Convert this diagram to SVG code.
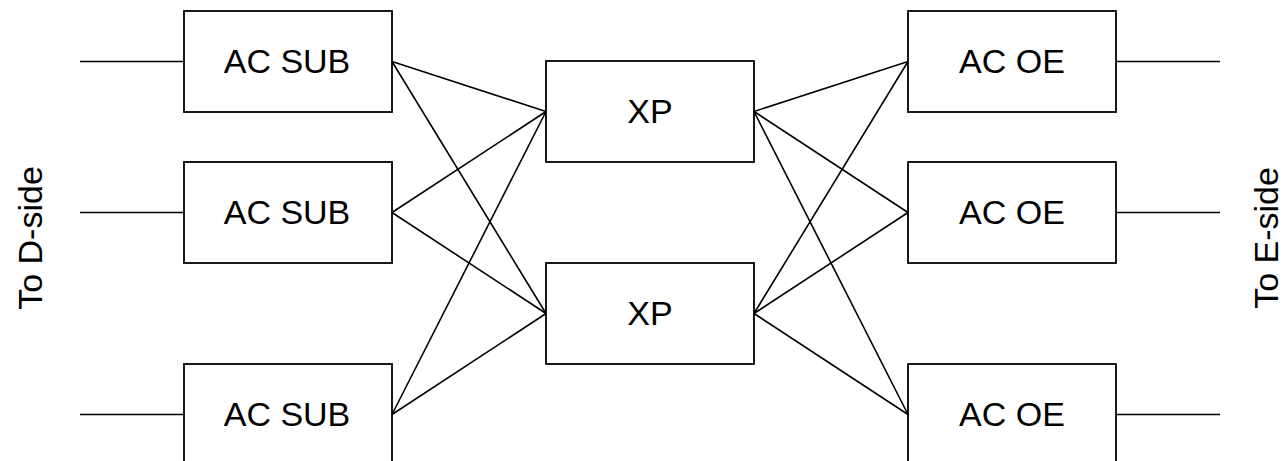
<svg xmlns="http://www.w3.org/2000/svg" width="1285" height="461" viewBox="0 0 1285 461">
<style>
.box{fill:#fff;stroke:#000;stroke-width:1.8}
.lbl{font-family:"Liberation Sans",Arial,sans-serif;font-size:34px;fill:#000;text-anchor:middle}
.side{font-family:"Liberation Sans",Arial,sans-serif;font-size:34px;fill:#000;text-anchor:middle}
.ln{stroke:#000;stroke-width:1.6;fill:none}
</style>
<rect width="1285" height="461" fill="#fff"/>
<g id="connectors" class="ln">
<line x1="80" y1="61.5" x2="184" y2="61.5"/>
<line x1="80" y1="212.5" x2="184" y2="212.5"/>
<line x1="80" y1="414.5" x2="184" y2="414.5"/>
<line x1="1116" y1="61.5" x2="1220" y2="61.5"/>
<line x1="1116" y1="212.5" x2="1220" y2="212.5"/>
<line x1="1116" y1="414.5" x2="1220" y2="414.5"/>
<line x1="392" y1="61.5" x2="546" y2="111.5"/>
<line x1="392" y1="61.5" x2="546" y2="313.5"/>
<line x1="392" y1="212.5" x2="546" y2="111.5"/>
<line x1="392" y1="212.5" x2="546" y2="313.5"/>
<line x1="392" y1="414.5" x2="546" y2="111.5"/>
<line x1="392" y1="414.5" x2="546" y2="313.5"/>
<line x1="754" y1="111.5" x2="908" y2="61.5"/>
<line x1="754" y1="111.5" x2="908" y2="212.5"/>
<line x1="754" y1="111.5" x2="908" y2="414.5"/>
<line x1="754" y1="313.5" x2="908" y2="61.5"/>
<line x1="754" y1="313.5" x2="908" y2="212.5"/>
<line x1="754" y1="313.5" x2="908" y2="414.5"/>
</g>
<g id="sub1"><rect class="box" x="184" y="11" width="208" height="101"/><text class="lbl" x="287" y="73">AC SUB</text></g>
<g id="sub2"><rect class="box" x="184" y="162" width="208" height="101"/><text class="lbl" x="287" y="224">AC SUB</text></g>
<g id="sub3"><rect class="box" x="184" y="364" width="208" height="101"/><text class="lbl" x="287" y="426">AC SUB</text></g>
<g id="xp1"><rect class="box" x="546" y="61" width="208" height="101"/><text class="lbl" x="650" y="123">XP</text></g>
<g id="xp2"><rect class="box" x="546" y="263" width="208" height="101"/><text class="lbl" x="650" y="325">XP</text></g>
<g id="oe1"><rect class="box" x="908" y="11" width="208" height="101"/><text class="lbl" x="1012" y="73">AC OE</text></g>
<g id="oe2"><rect class="box" x="908" y="162" width="208" height="101"/><text class="lbl" x="1012" y="224">AC OE</text></g>
<g id="oe3"><rect class="box" x="908" y="364" width="208" height="101"/><text class="lbl" x="1012" y="426">AC OE</text></g>
<g id="dside"><text class="side" transform="translate(42,238) rotate(-90)">To D-side</text></g>
<g id="eside"><text class="side" transform="translate(1278,238) rotate(-90)">To E-side</text></g>
</svg>
